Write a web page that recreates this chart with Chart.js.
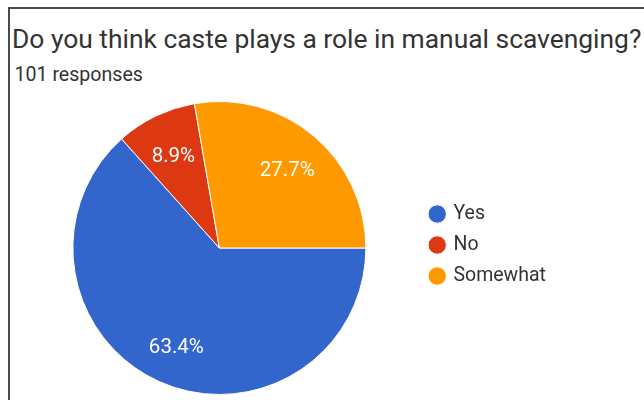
<!DOCTYPE html>
<html>
<head>
<meta charset="utf-8">
<script src="https://cdn.jsdelivr.net/npm/chart.js@4/dist/chart.umd.min.js"></script>
<style>
  html, body { margin: 0; padding: 0; background: #fff; }
  body { width: 644px; height: 400px; position: relative; overflow: hidden; font-family: Roboto, "Noto Sans", sans-serif; }
  #frame { position: absolute; left: 8px; top: 7px; width: 700px; height: 500px; border-top: 2px solid #4a4a4a; border-left: 2px solid #4a4a4a; }
  #title { position: absolute; left: 12px; top: 25.5px; font-size: 26.4px; line-height: 26.4px; color: #333; white-space: nowrap; }
  #sub { position: absolute; left: 14.5px; top: 64.5px; font-size: 19.6px; line-height: 19.6px; color: #333; white-space: nowrap; }
  #wrap { position: absolute; left: 0; top: 101px; width: 644px; height: 294px; }
</style>
</head>
<body>
<div id="frame"></div>
<div id="title">Do you think caste plays a role in manual scavenging?</div>
<div id="sub">101 responses</div>
<div id="wrap"><canvas id="c"></canvas></div>
<script>
const categories = ["Yes", "No", "Somewhat"];
const responses = [64, 9, 28];
const colors = ["#3366cc", "#dc3912", "#ff9900"];

const sliceLabels = {
  id: 'sliceLabels',
  afterDatasetsDraw(chart) {
    const ctx = chart.ctx;
    const meta = chart.getDatasetMeta(0);
    const data = chart.data.datasets[0].data;
    const total = data.reduce((a, b) => a + b, 0);
    ctx.save();
    ctx.fillStyle = '#ffffff';
    ctx.font = '20.5px Roboto';
    ctx.textAlign = 'center';
    ctx.textBaseline = 'middle';
    meta.data.forEach((arc, i) => {
      const p = arc.getProps(['x', 'y', 'startAngle', 'endAngle', 'outerRadius'], true);
      const mid = (p.startAngle + p.endAngle) / 2;
      const r = p.outerRadius * 0.72;
      const txt = (data[i] / total * 100).toFixed(1) + '%';
      ctx.fillText(txt, p.x + Math.cos(mid) * r, p.y + Math.sin(mid) * r + 4);
    });
    ctx.restore();
  }
};

const legendNudge = {
  id: 'legendNudge',
  afterLayout(chart) {
    const lg = chart.legend;
    if (lg) { lg.top -= 3; lg.bottom -= 3; }
  }
};

new Chart(document.getElementById('c'), {
  type: 'pie',
  data: {
    labels: categories,
    datasets: [{
      data: responses,
      backgroundColor: colors,
      borderColor: '#ffffff',
      borderWidth: 1
    }]
  },
  options: {
    responsive: true,
    maintainAspectRatio: false,
    animation: false,
    rotation: 90,
    layout: { padding: { left: 19.5, right: 88, top: 0, bottom: 0 } },
    plugins: {
      tooltip: { enabled: false },
      legend: {
        position: 'right',
        align: 'center',
        labels: {
          usePointStyle: true,
          pointStyle: 'circle',
          boxWidth: 13,
          boxHeight: 13,
          padding: 11.5,
          color: '#333',
          font: { family: 'Roboto', size: 19.5 }
        }
      }
    }
  },
  plugins: [sliceLabels, legendNudge]
});
</script>
</body>
</html>
